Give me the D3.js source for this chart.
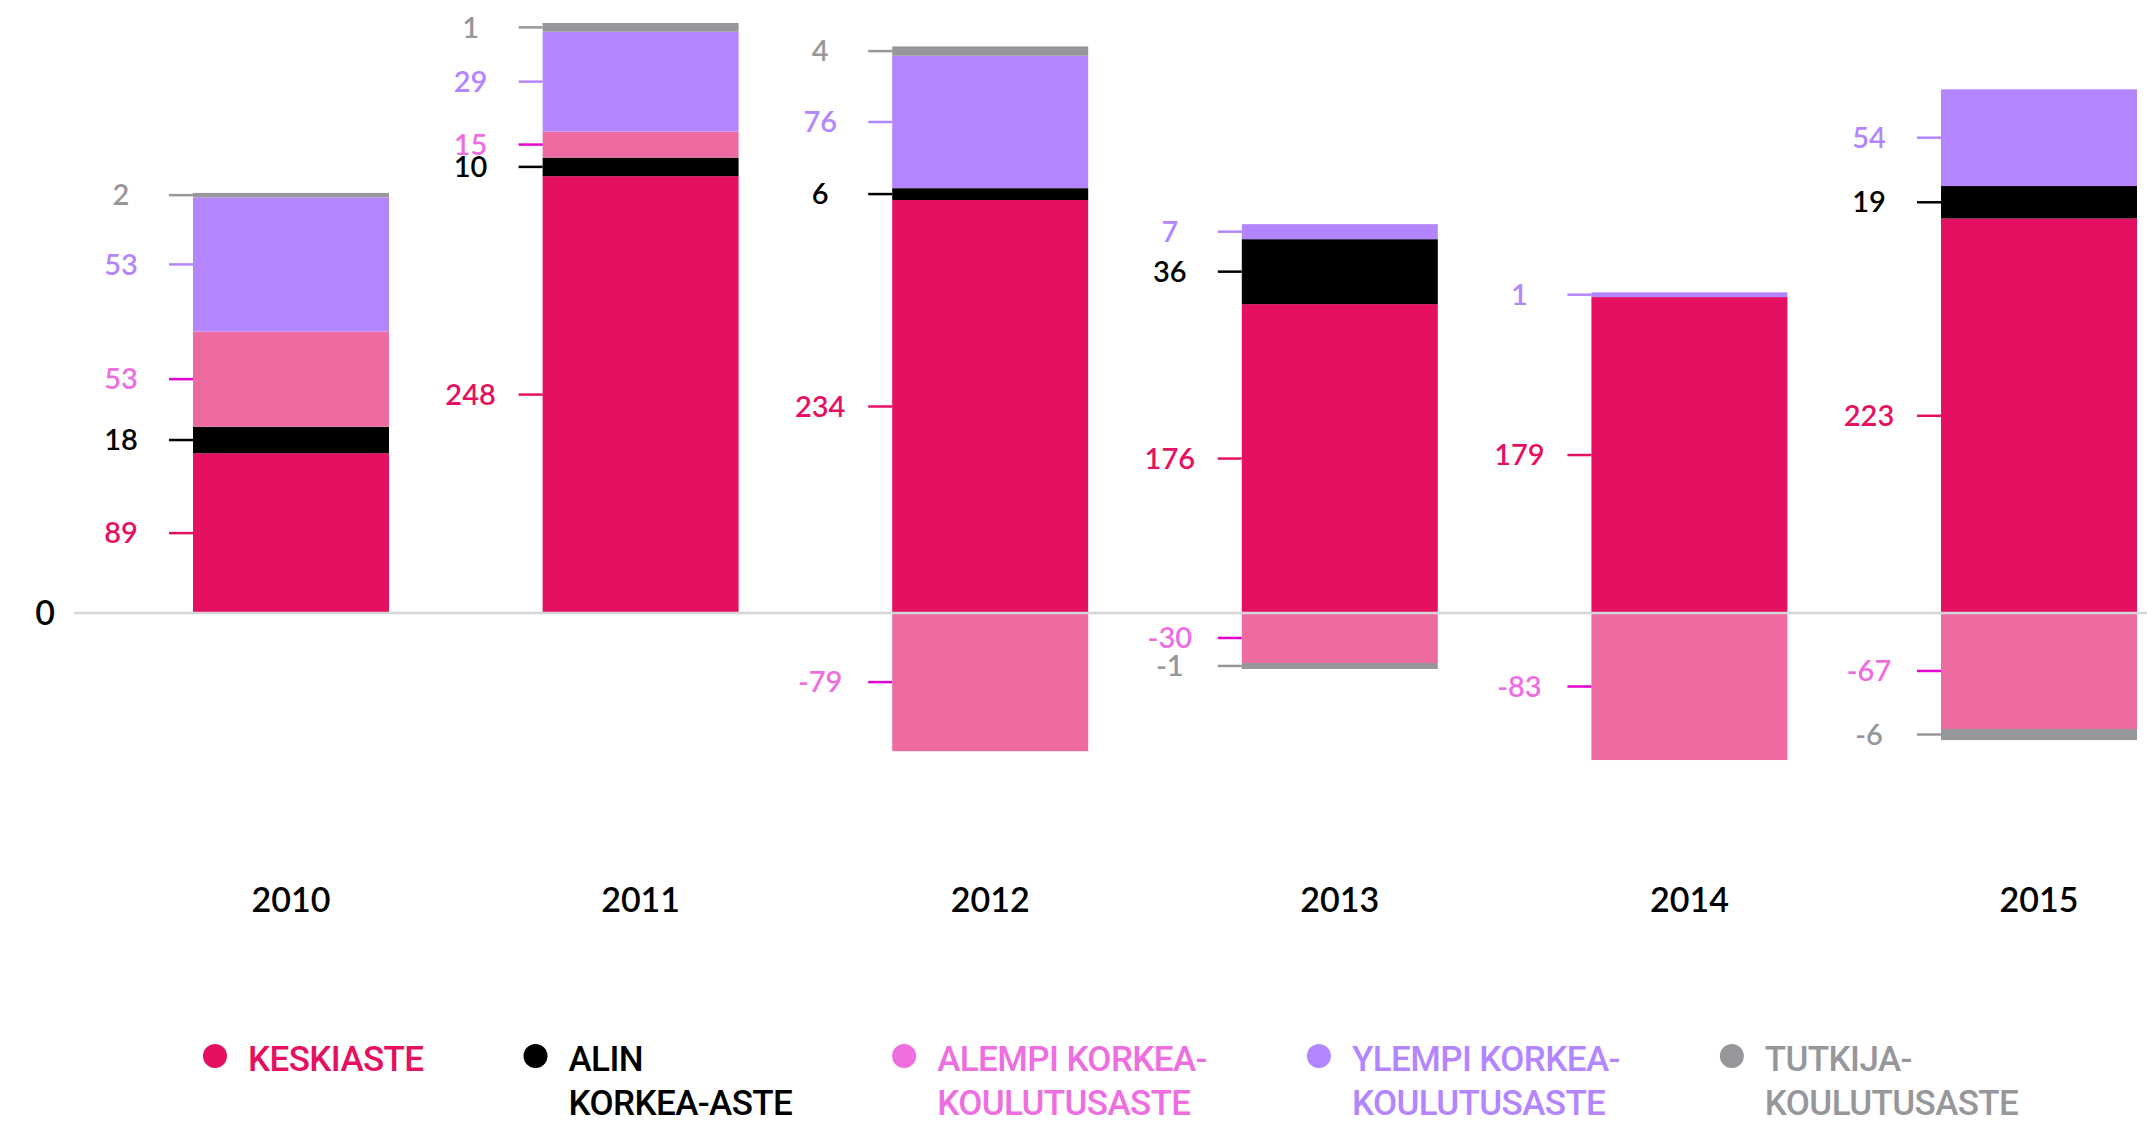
<!DOCTYPE html>
<html>
<head>
<meta charset="utf-8">
<script src="https://cdn.jsdelivr.net/npm/d3@7"></script>
<style>
  html, body { margin: 0; padding: 0; background: #fff; }
  svg { display: block; }
  .num { font-family: Lato, "Open Sans", sans-serif; font-weight: 600; }
  .leg { font-family: Roboto, sans-serif; font-weight: 500; }
</style>
</head>
<body>
<svg id="chart" width="2147" height="1122"></svg>
<script>
// ---- data ----
const years = ["2010", "2011", "2012", "2013", "2014", "2015"];
// bar heights
const keskiaste = [90.5, 247.5, 234, 175, 179, 223.5];
const alin      = [15, 10.5, 6.7, 36.8, 0, 18.4];
const alempi    = [54, 14.8, -78.3, -28.3, -83.3, -65.7];
const ylempi    = [76, 56.5, 75, 8.5, 2.7, 54.8];
const tutkija   = [2.5, 5, 5.3, -3.4, 0, -6.3];
// printed value labels
const keskiasteLabels = ["89", "248", "234", "176", "179", "223"];
const alinLabels      = ["18", "10", "6", "36", "", "19"];
const alempiLabels    = ["53", "15", "-79", "-30", "-83", "-67"];
const ylempiLabels    = ["53", "29", "76", "7", "1", "54"];
const tutkijaLabels   = ["2", "1", "4", "-1", "", "-6"];
const legendLines = [["KESKIASTE"], ["ALIN", "KORKEA-ASTE"], ["ALEMPI KORKEA-", "KOULUTUSASTE"], ["YLEMPI KORKEA-", "KOULUTUSASTE"], ["TUTKIJA-", "KOULUTUSASTE"]];

// ---- styles ----
const barColors   = ["#e51061", "#000000", "#ed6ba0", "#b385ff", "#97979b"];
const tickColors  = ["#e51061", "#000000", "#e600d0", "#b385ff", "#97979b"];
const labelColors = ["#e51061", "#000000", "#ee6ee0", "#b385ff", "#97979b"];
const legendColors = ["#e51061", "#000000", "#ee6ee0", "#b385ff", "#97979b"];

const keys = ["k", "a", "l", "y", "t"];
const valueArrays = [keskiaste, alin, alempi, ylempi, tutkija];
const labelArrays = [keskiasteLabels, alinLabels, alempiLabels, ylempiLabels, tutkijaLabels];
const table = years.map((yr, i) => {
  const row = { year: yr };
  keys.forEach((k, j) => row[k] = valueArrays[j][i]);
  return row;
});

const svg = d3.select("#chart");

const x = d3.scaleBand().domain(years).range([193, 2137]).paddingInner(0.4394).paddingOuter(0);
const y = d3.scaleLinear().domain([-100, 300]).range([789.5, 83.5]);

const stacked = d3.stack().keys(keys).offset(d3.stackOffsetDiverging)(table);

// bars
const gBars = svg.append("g");
stacked.forEach((s, si) => {
  gBars.selectAll(null).data(s.filter(d => d[1] !== d[0])).join("rect")
    .attr("x", d => x(d.data.year))
    .attr("width", x.bandwidth())
    .attr("y", d => y(Math.max(d[0], d[1])))
    .attr("height", d => Math.abs(y(d[0]) - y(d[1])))
    .attr("fill", barColors[si]);
});

// zero line
svg.append("line")
  .attr("x1", 74).attr("x2", 2147)
  .attr("y1", y(0)).attr("y2", y(0))
  .attr("stroke", "#d6d6d6").attr("stroke-width", 2.5);

svg.append("text").attr("class", "num")
  .attr("x", 45).attr("y", y(0)).attr("dy", "0.36em")
  .attr("text-anchor", "middle").attr("font-size", 34).attr("fill", "#000")
  .text("0");

// ticks & labels per segment
const gTicks = svg.append("g");
stacked.forEach((s, si) => {
  s.forEach((d, i) => {
    const lab = labelArrays[si][i];
    if (!lab) return;
    const xl = x(d.data.year);
    const ym = y((d[0] + d[1]) / 2);
    gTicks.append("line")
      .attr("x1", xl - 24).attr("x2", xl)
      .attr("y1", ym).attr("y2", ym)
      .attr("stroke", tickColors[si]).attr("stroke-width", 2.5);
    gTicks.append("text").attr("class", "num")
      .attr("x", xl - 72).attr("y", ym).attr("dy", "0.35em")
      .attr("text-anchor", "middle").attr("font-size", 29)
      .attr("fill", labelColors[si])
      .text(lab);
  });
});

// x axis labels
const xAxis = d3.axisBottom(x).tickSize(0).tickPadding(0);
const gx = svg.append("g").attr("transform", "translate(0,888)").call(xAxis);
gx.select(".domain").remove();
gx.selectAll("text")
  .attr("class", "num")
  .attr("font-size", 34)
  .attr("fill", "#000")
  .attr("dy", "0.72em")
  .style("font-family", "Lato, sans-serif")
  .style("font-weight", 600);

// legend (flow layout)
const gLeg = svg.append("g");
let cx = 215;
legendLines.forEach((lines, i) => {
  const g = gLeg.append("g");
  g.append("circle").attr("cx", cx).attr("cy", 1056).attr("r", 12).attr("fill", legendColors[i]);
  const tx = cx + 33;
  let maxW = 0;
  lines.forEach((ln, li) => {
    const t = g.append("text").attr("class", "leg")
      .attr("x", tx).attr("y", 1071 + li * 44)
      .attr("font-size", 35).attr("letter-spacing", -0.6)
      .attr("fill", legendColors[i])
      .text(ln);
    maxW = Math.max(maxW, t.node().getComputedTextLength());
  });
  cx = tx + maxW + 112;
});
</script>
</body>
</html>
